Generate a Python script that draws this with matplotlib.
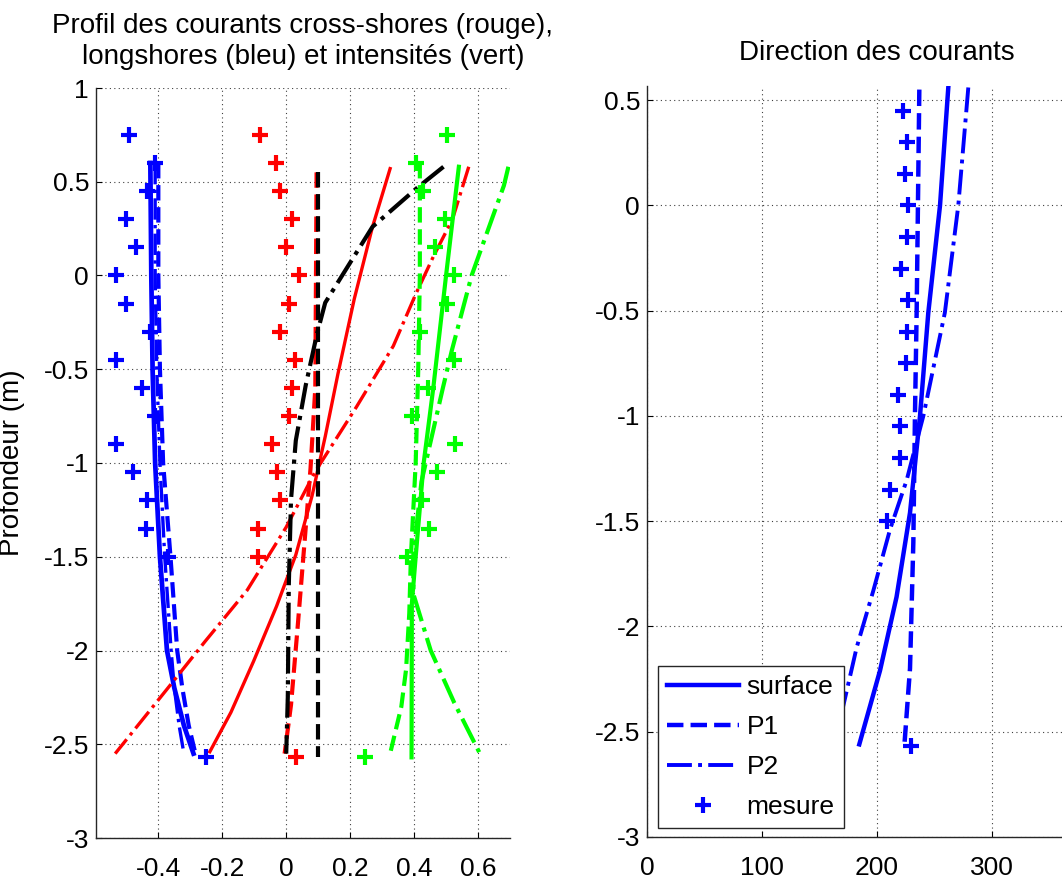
import numpy as np
import matplotlib.pyplot as plt

plt.rcParams['font.family'] = ['Liberation Sans', 'DejaVu Sans']

# measurement depths (m)
z_mes = [0.75, 0.6, 0.45, 0.3, 0.15, 0, -0.15, -0.3, -0.45, -0.6, -0.75,
         -0.9, -1.05, -1.2, -1.35, -1.5, -2.57]
long_mes = [-0.493, -0.41, -0.434, -0.502, -0.47, -0.532, -0.502, -0.425, -0.532,
            -0.45, -0.41, -0.532, -0.48, -0.435, -0.44, -0.37, -0.25]
cross_mes = [-0.083, -0.031, -0.018, 0.018, 0.0, 0.04, 0.01, -0.018, 0.028,
             0.018, 0.01, -0.046, -0.028, -0.018, -0.089, -0.089, 0.03]
int_mes = [0.502, 0.406, 0.427, 0.497, 0.466, 0.526, 0.503, 0.419, 0.526,
           0.445, 0.393, 0.529, 0.473, 0.426, 0.447, 0.379, 0.247]

# longshore profiles (blue)
z_long = [0.6, 0, -0.5, -1.0, -1.5, -2.0, -2.2, -2.4, -2.55]
long_surf = [-0.425, -0.422, -0.418, -0.41, -0.395, -0.373, -0.35, -0.32, -0.29]
long_p1 = [-0.40, -0.40, -0.395, -0.385, -0.362, -0.341, -0.325, -0.305, -0.284]
long_p2 = [-0.41, -0.41, -0.405, -0.395, -0.38, -0.36, -0.35, -0.335, -0.32]

# cross-shore profiles (red)
z_cs = [0.57, 0.254, -0.124, -0.523, -0.859, -1.174, -1.49, -1.763, -2.057, -2.33, -2.54]
cross_surf = [0.325, 0.269, 0.213, 0.162, 0.122, 0.081, 0.030, -0.030, -0.102, -0.173, -0.239]
z_cp1 = [0.55, -0.6, -1.03, -1.45, -1.87, -2.29, -2.55]
cross_p1 = [0.095, 0.091, 0.076, 0.056, 0.036, 0.015, -0.005]
z_cp2 = [0.58, 0.3, 0.1, -0.1, -0.376, -0.7, -1.048, -1.342, -1.678, -1.952, -2.2, -2.55]
cross_p2 = [0.571, 0.52, 0.46, 0.405, 0.335, 0.22, 0.09, 0.0, -0.122, -0.254, -0.37, -0.535]

# black profiles
z_k1 = [0.55, -2.57]
black_p1 = [0.1, 0.1]
z_k2 = [0.58, 0.465, 0.26, -0.145, -0.313, -0.586, -0.88, -1.195, -1.657, -2.246, -2.55]
black_p2 = [0.492, 0.408, 0.27, 0.122, 0.096, 0.061, 0.030, 0.015, 0.008, 0.005, 0.0]

# intensity profiles (green)
z_is = [0.58, 0, -0.6, -1.0, -1.5, -1.75, -2.57]
int_surf = [0.54, 0.5, 0.46, 0.43, 0.405, 0.393, 0.392]
z_ip1 = [0.6, 0, -0.5, -1, -1.5, -1.8, -2.1, -2.3, -2.55]
int_p1 = [0.418, 0.418, 0.413, 0.405, 0.39, 0.385, 0.375, 0.36, 0.325]
z_ip2 = [0.58, 0.48, 0, -0.4, -0.6, -1.1, -1.5, -1.7, -2.0, -2.28, -2.55]
int_p2 = [0.695, 0.681, 0.58, 0.518, 0.49, 0.423, 0.397, 0.398, 0.452, 0.526, 0.606]

# direction (deg)
z_dir_mes = [0.45, 0.3, 0.15, 0, -0.15, -0.3, -0.45, -0.6, -0.75, -0.9, -1.05,
             -1.2, -1.35, -1.5, -2.57]
dir_mes = [222.9, 225.8, 224.3, 227.2, 225.8, 220.6, 226.7, 225.8, 225.2, 218.5,
           220, 220, 211.3, 209, 229.6]
z_ds = [0.56, 0, -0.51, -1, -1.46, -1.86, -2.21, -2.56]
dir_surf = [262, 254.8, 244.6, 237.4, 228.7, 217, 202.6, 184.6]
z_d1 = [0.55, -0.5, -1, -1.6, -2.2, -2.55]
dir_p1 = [236.8, 234.5, 233, 231.6, 228.7, 224]
z_d2 = [0.56, 0, -0.51, -1, -1.305, -1.54, -1.83, -2.1, -2.41, -2.57]
dir_p2 = [279.4, 270.7, 259, 240.3, 225.8, 211.3, 196.8, 182.3, 169.3, 164]

B, R, G, K = (0, 0, 1), (1, 0, 0), (0, 1, 0), (0, 0, 0)
FS = 19
FT = 20


def style_axes(ax):
    for s in ("top", "right"):
        ax.spines[s].set_visible(False)
    for s in ("left", "bottom"):
        ax.spines[s].set_linewidth(1.0)
        ax.spines[s].set_color("0.15")
    ax.grid(True, linestyle=(0, (1, 3)), color="0.25", linewidth=0.8)
    ax.tick_params(direction="in", length=4, labelsize=FS, width=0.8)
    ax.tick_params(axis="x", pad=14)
    ax.tick_params(axis="y", pad=5)


fig = plt.figure(figsize=(10.62, 8.8), dpi=100)

ax1 = fig.add_axes([96 / 1062, 1 - 838 / 880, 414 / 1062, 750 / 880])
lw = 2.4
ax1.plot(long_surf, z_long, color=B, lw=3.4, ls="-")
ax1.plot(long_p1, z_long, color=B, lw=lw + 0.6, ls="--")
ax1.plot(long_p2, z_long, color=B, lw=lw, ls="-.")
ax1.plot(cross_surf, z_cs, color=R, lw=lw, ls="-")
ax1.plot(cross_p1, z_cp1, color=R, lw=lw + 0.6, ls="--")
ax1.plot(cross_p2, z_cp2, color=R, lw=lw, ls="-.")
ax1.plot(black_p1, z_k1, color=K, lw=lw + 0.6, ls="--")
ax1.plot(black_p2, z_k2, color=K, lw=lw + 0.6, ls="-.")
ax1.plot(int_surf, z_is, color=G, lw=lw + 0.6, ls="-")
ax1.plot(int_p1, z_ip1, color=G, lw=lw + 0.6, ls="--")
ax1.plot(int_p2, z_ip2, color=G, lw=lw + 0.6, ls="-.")
for xs, c in ((long_mes, B), (cross_mes, R), (int_mes, G)):
    ax1.plot(xs, z_mes, ls="none", marker="+", ms=11, mew=3, color=c)

ax1.set_xlim(-0.595, 0.7)
ax1.set_ylim(-3, 1)
ax1.set_xticks([-0.4, -0.2, 0, 0.2, 0.4, 0.6])
ax1.set_xticklabels(["-0.4", "-0.2", "0", "0.2", "0.4", "0.6"])
ax1.set_yticks(np.arange(-3, 1.01, 0.5))
ax1.set_yticklabels(["-3", "-2.5", "-2", "-1.5", "-1", "-0.5", "0", "0.5", "1"])
style_axes(ax1)
ax1.set_ylabel("Profondeur (m)", fontsize=FT)
ax1.yaxis.set_label_coords(-0.172, 0.5)
ax1.set_title("Profil des courants cross-shores (rouge),\nlongshores (bleu) et intensités (vert)",
              fontsize=FT, pad=17, linespacing=1.25)

ax2 = fig.add_axes([647 / 1062, 1 - 837 / 880, 460 / 1062, 751 / 880])
ax2.plot(dir_surf, z_ds, color=B, lw=3.2, ls="-", label="surface")
ax2.plot(dir_p1, z_d1, color=B, lw=3.2, ls="--", label="P1")
ax2.plot(dir_p2, z_d2, color=B, lw=2.8, ls="-.", label="P2")
ax2.plot(dir_mes, z_dir_mes, ls="none", marker="+", ms=11, mew=3, color=B, label="mesure")
ax2.set_xlim(0, 400)
ax2.set_ylim(-3, 0.567)
ax2.set_xticks([0, 100, 200, 300])
ax2.set_yticks(np.arange(-3, 0.51, 0.5))
ax2.set_yticklabels(["-3", "-2.5", "-2", "-1.5", "-1", "-0.5", "0", "0.5"])
style_axes(ax2)
ax2.set_title("Direction des courants", fontsize=FT, pad=19)

leg = ax2.legend(loc="lower left", bbox_to_anchor=(0.024, 0.012), borderaxespad=0,
                 fontsize=FS, handlelength=2.7, handletextpad=0.3, labelspacing=0.6,
                 borderpad=0.35, fancybox=False, framealpha=1, edgecolor="0.15")
leg.get_frame().set_linewidth(1.0)

fig.savefig("out.png", dpi=100)
